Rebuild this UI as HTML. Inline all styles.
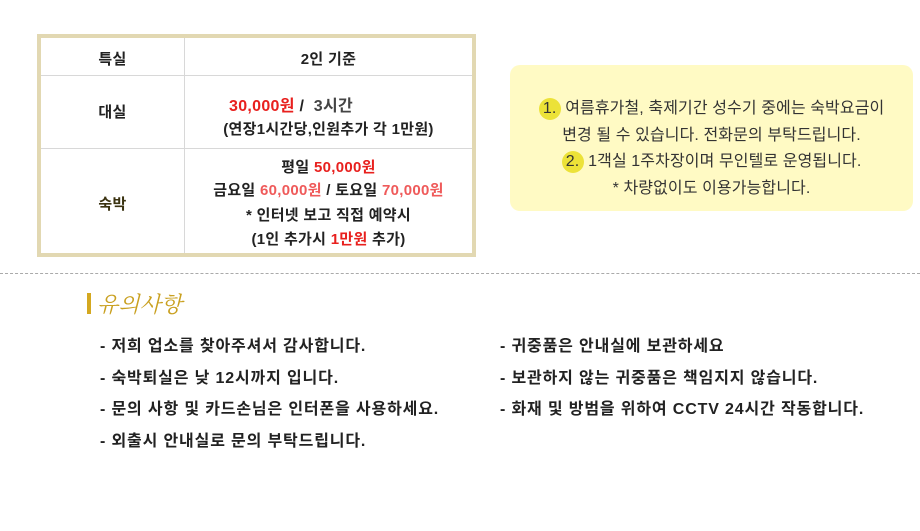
<!DOCTYPE html>
<html><head><meta charset="utf-8"><style>
body{margin:0;width:920px;height:531px;background:#fff;position:relative;overflow:hidden;font-family:"Liberation Sans","Noto Sans CJK KR",sans-serif;color:#222}
.a{position:absolute;white-space:nowrap}
.c{text-align:center}
.r{color:#e8201e}
.p{color:#ef5a5a}
.tb{position:absolute;left:37px;top:34px;width:431px;height:215px;border:4px solid #e2d8b2;background:#fff}
.vl{position:absolute;left:143px;top:0;width:1px;height:215px;background:#d8d8d8}
.hl{position:absolute;left:0;width:431px;height:1px;background:#d8d8d8}
.tb .a{font-size:15px;font-weight:bold;letter-spacing:0.3px}
.y{position:absolute;left:510px;top:65px;width:403px;height:146px;background:#fffac4;border-radius:10px}
.y .a{font-size:16px;color:#333;left:0;width:403px;text-align:center;letter-spacing:0.1px}
.n{background:#ece238;border-radius:50%;display:inline-block;width:22px;height:22px;line-height:22px;text-align:center}
.l{font-size:16px;font-weight:bold;color:#222;letter-spacing:0.85px}
</style></head><body>
<div class="tb">
<div class="vl"></div>
<div class="hl" style="top:37px"></div>
<div class="hl" style="top:110px"></div>
<div class="a c" style="left:0;width:143px;top:10px">특실</div>
<div class="a c" style="left:144px;width:287px;top:10px">2인 기준</div>
<div class="a c" style="left:0;width:143px;top:63px">대실</div>
<div class="a" style="left:188px;top:54px;font-size:16px"><span class="r">30,000원</span> / &nbsp;<span style="color:#444">3시간</span></div>
<div class="a c" style="left:144px;width:287px;top:80px">(연장1시간당,인원추가 각 1만원)</div>
<div class="a c" style="left:0;width:143px;top:155px;color:#3a3210">숙박</div>
<div class="a c" style="left:144px;width:287px;top:118px">평일 <span class="r">50,000원</span></div>
<div class="a c" style="left:144px;width:287px;top:141px">금요일 <span class="p">60,000원</span> / 토요일 <span class="p">70,000원</span></div>
<div class="a c" style="left:144px;width:287px;top:166px">* 인터넷 보고 직접 예약시</div>
<div class="a c" style="left:144px;width:287px;top:190px">(1인 추가시 <span class="r">1만원</span> 추가)</div>
</div>
<div class="y">
<div class="a" style="top:29px"><span class="n">1.</span> 여름휴가철, 축제기간 성수기 중에는 숙박요금이</div>
<div class="a" style="top:56px">변경 될 수 있습니다. 전화문의 부탁드립니다.</div>
<div class="a" style="top:82px"><span class="n">2.</span> 1객실 1주차장이며 무인텔로 운영됩니다.</div>
<div class="a" style="top:109px">* 차량없이도 이용가능합니다.</div>
</div>
<div class="a" style="left:0;top:273px;width:920px;border-top:1px dashed #aaa"></div>
<div class="a" style="left:87px;top:293px;width:4px;height:21px;background:#d4a820"></div>
<div class="a" style="left:97px;top:288px;font-size:22px;font-style:italic;color:#c9a020;font-family:'Noto Serif CJK SC','Noto Sans CJK KR',serif">유의사항</div>
<div class="a l" style="left:100px;top:332px">- 저희 업소를 찾아주셔서 감사합니다.</div>
<div class="a l" style="left:100px;top:364px">- 숙박퇴실은 낮 12시까지 입니다.</div>
<div class="a l" style="left:100px;top:395px">- 문의 사항 및 카드손님은 인터폰을 사용하세요.</div>
<div class="a l" style="left:100px;top:427px">- 외출시 안내실로 문의 부탁드립니다.</div>
<div class="a l" style="left:500px;top:332px">- 귀중품은 안내실에 보관하세요</div>
<div class="a l" style="left:500px;top:364px">- 보관하지 않는 귀중품은 책임지지 않습니다.</div>
<div class="a l" style="left:500px;top:395px">- 화재 및 방범을 위하여 CCTV 24시간 작동합니다.</div>
</body></html>
